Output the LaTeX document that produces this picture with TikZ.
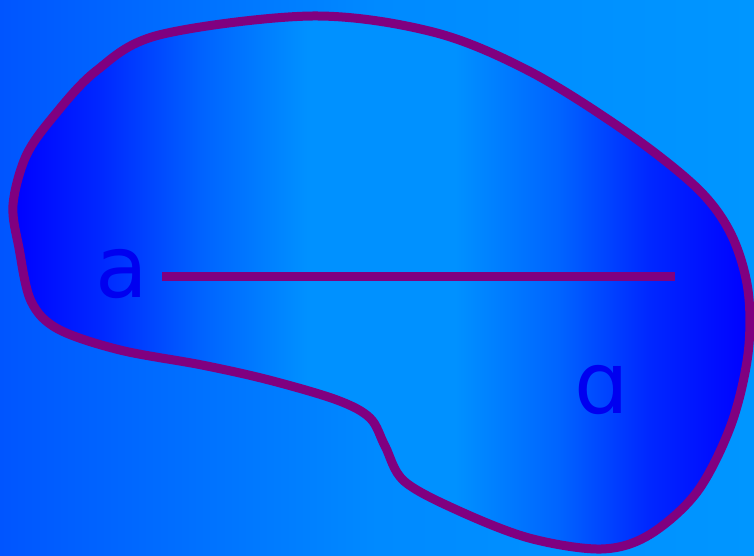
\documentclass[tikz,border=0pt]{standalone}
\usepackage{fontspec}
\setmainfont{DejaVu Sans}
\definecolor{bgL}{RGB}{0,85,255}
\definecolor{bgM}{RGB}{0,138,255}
\definecolor{bgR}{RGB}{0,150,255}
\definecolor{bD}{RGB}{0,0,255}
\definecolor{b1}{RGB}{0,40,255}
\definecolor{b2}{RGB}{0,100,255}
\definecolor{b3}{RGB}{0,145,255}
\definecolor{outl}{RGB}{128,0,128}
\definecolor{txt}{RGB}{0,0,240}
\pgfdeclarehorizontalshading{bgsh}{100bp}{color(0bp)=(bgL); color(25bp)=(bgL); color(50bp)=(bgM); color(75bp)=(bgR); color(100bp)=(bgR)}
\pgfdeclarehorizontalshading{blobsh}{100bp}{color(0bp)=(bD); color(25bp)=(bD); color(31bp)=(b1); color(38bp)=(b2); color(45bp)=(b3); color(55bp)=(b3); color(62bp)=(b2); color(68bp)=(b1); color(75bp)=(bD); color(100bp)=(bD)}
\tikzset{
  lbl/.style={text=txt, font=\fontsize{86}{90}\selectfont, inner sep=0pt, anchor=base},
  outline/.style={draw=outl, line width=9pt},
}
\begin{document}
\begin{tikzpicture}[x=1pt,y=-1pt]
\useasboundingbox (0,0) rectangle (754,555);
\shade[shading=bgsh] (0,0) rectangle (754,555);
\shade[shading=blobsh, outline] plot[smooth cycle, tension=0.55] coordinates {
 (312,16) (159,35) (96,71) (53,117) (26,156) (13,205) (19,248) (31,301)
 (58,329) (120,350) (202,365) (269,380) (337,400) (370,418) (385,446)
 (404,481) (457,510) (529,538) (601,549) (649,535) (697,492) (731,425)
 (748,354) (748,290) (731,234) (697,188) (625,131) (529,71) (433,32)};
\node[lbl] (a) at (122,297) {a};
\node[lbl] (alpha) at (602,413) {ɑ};
\coordinate (s) at (162,276);
\coordinate (e) at (675,276);
\draw[outline] (s) -- (e);
\end{tikzpicture}
\end{document}
